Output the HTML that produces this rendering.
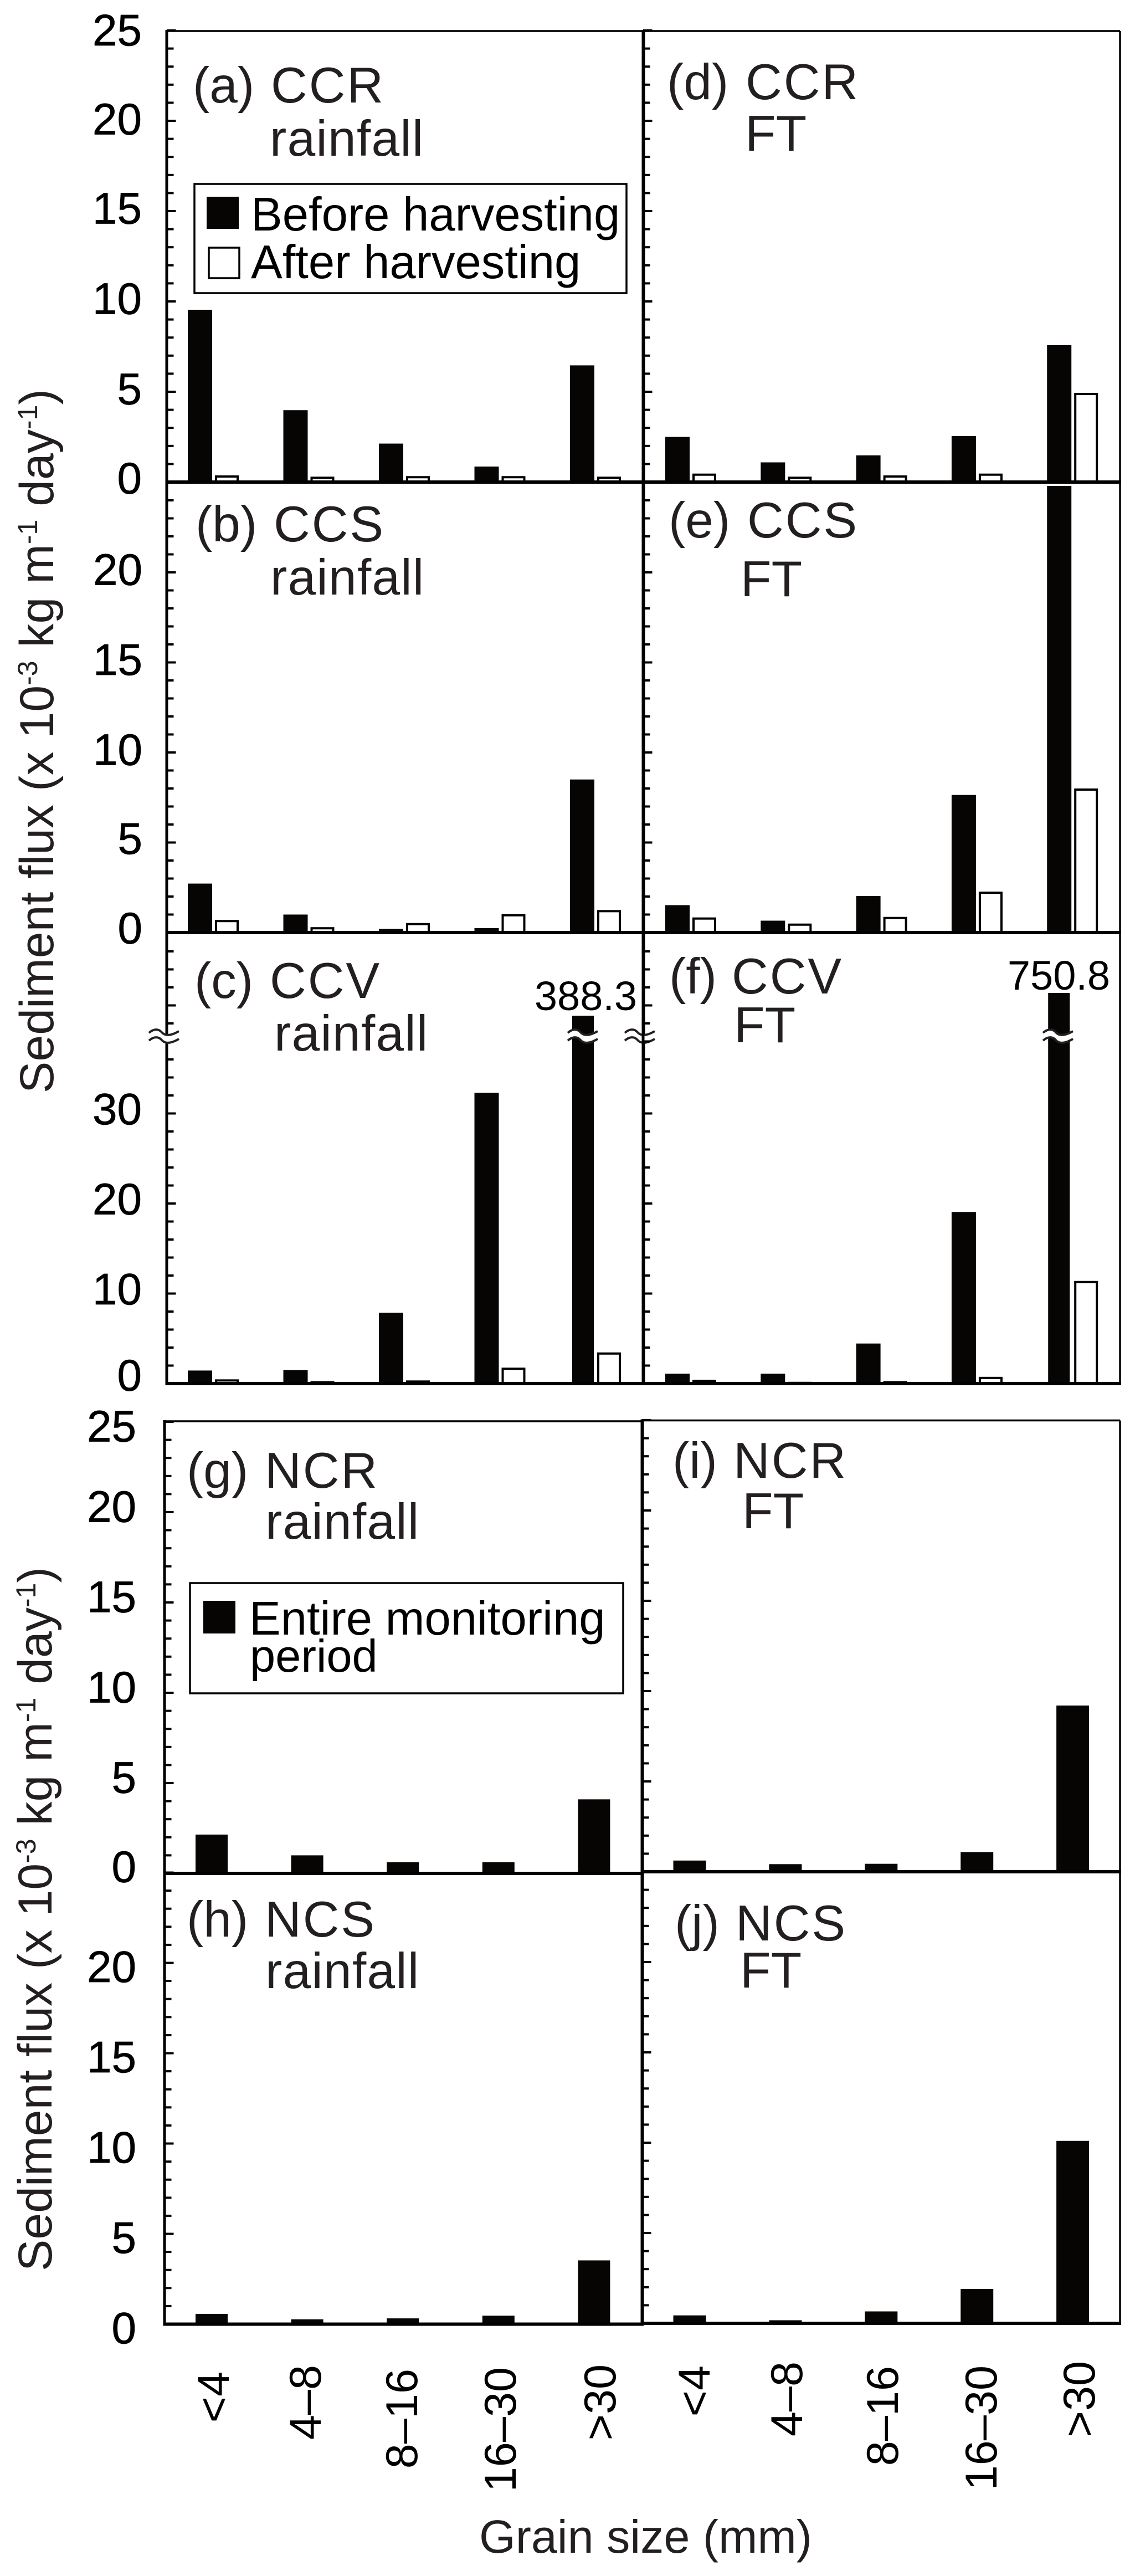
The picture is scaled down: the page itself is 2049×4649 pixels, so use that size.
<!DOCTYPE html>
<html lang="en">
<head>
<meta charset="utf-8">
<title>Sediment flux by grain size</title>
<style>
html,body{margin:0;padding:0;background:#fff;}
body{width:2049px;height:4649px;overflow:hidden;}
svg{display:block;font-family:"Liberation Sans",Arial,sans-serif;}
.plabel{font-size:91px;fill:#231f20;}
.site{letter-spacing:3px;}
.rain{letter-spacing:1.3px;}
.legend{font-size:85px;fill:#000;}
.ytitle{font-size:86px;fill:#231f20;}
.sup{font-size:50px;}
</style>
</head>
<body>
<svg id="chart" xmlns="http://www.w3.org/2000/svg" width="2049" height="4649" viewBox="0 0 2049 4649">
  <rect x="0" y="0" width="2049" height="4649" fill="#fff"/>
  <g id="plots"></g>

  <g>
    <text class="plabel" x="348" y="185">(a)</text>
    <text class="plabel site" x="489" y="185">CCR</text>
    <text class="plabel rain" x="487" y="281">rainfall</text>
    <text class="plabel" x="353" y="977">(b)</text>
    <text class="plabel site" x="494" y="977">CCS</text>
    <text class="plabel rain" x="488" y="1073">rainfall</text>
    <text class="plabel" x="351" y="1801">(c)</text>
    <text class="plabel site" x="487" y="1801">CCV</text>
    <text class="plabel rain" x="495" y="1896">rainfall</text>
    <text class="plabel" x="1204" y="179">(d)</text>
    <text class="plabel site" x="1346" y="179">CCR</text>
    <text class="plabel" x="1345" y="272">FT</text>
    <text class="plabel" x="1207" y="970">(e)</text>
    <text class="plabel site" x="1349" y="970">CCS</text>
    <text class="plabel" x="1337" y="1076">FT</text>
    <text class="plabel" x="1208" y="1793">(f)</text>
    <text class="plabel site" x="1321" y="1793">CCV</text>
    <text class="plabel" x="1325" y="1881">FT</text>
    <text class="plabel" x="337" y="2685">(g)</text>
    <text class="plabel site" x="478" y="2685">NCR</text>
    <text class="plabel rain" x="479" y="2777">rainfall</text>
    <text class="plabel" x="337" y="3495">(h)</text>
    <text class="plabel site" x="478" y="3495">NCS</text>
    <text class="plabel rain" x="479" y="3588">rainfall</text>
    <text class="plabel" x="1214" y="2667">(i)</text>
    <text class="plabel site" x="1324" y="2667">NCR</text>
    <text class="plabel" x="1340" y="2758">FT</text>
    <text class="plabel" x="1218" y="3502">(j)</text>
    <text class="plabel site" x="1328" y="3502">NCS</text>
    <text class="plabel" x="1336" y="3587">FT</text>
  </g>

  <g>
    <rect x="351" y="332" width="780" height="197" fill="#fff" stroke="#000" stroke-width="3.5"/>
    <rect x="373" y="355" width="58" height="58" fill="#070404"/>
    <text class="legend" x="453" y="416">Before harvesting</text>
    <rect x="377" y="447" width="55" height="55" fill="#fff" stroke="#000" stroke-width="3.5"/>
    <text class="legend" x="453" y="502">After harvesting</text>
  </g>
  <g>
    <rect x="343" y="2857" width="782" height="199" fill="#fff" stroke="#000" stroke-width="3.5"/>
    <rect x="367" y="2889" width="58" height="59" fill="#070404"/>
    <text class="legend" x="450" y="2950">Entire monitoring</text>
    <text class="legend" x="451" y="3017" style="font-size:83px">period</text>
  </g>

  <text class="ytitle" transform="translate(96,1973) rotate(-90)">Sediment flux (x 10<tspan class="sup" dy="-29">-3</tspan><tspan dy="29"> kg m</tspan><tspan class="sup" dy="-29">-1</tspan><tspan dy="29"> day</tspan><tspan class="sup" dy="-29">-1</tspan><tspan dy="29">)</tspan></text>
  <text class="ytitle" transform="translate(93,4099) rotate(-90)">Sediment flux (x 10<tspan class="sup" dy="-29">-3</tspan><tspan dy="29"> kg m</tspan><tspan class="sup" dy="-29">-1</tspan><tspan dy="29"> day</tspan><tspan class="sup" dy="-29">-1</tspan><tspan dy="29">)</tspan></text>
  <text x="865" y="4607" font-size="84.5" fill="#231f20">Grain size (mm)</text>
</svg>

<script>
// ---- chart data ----
const categories = ["<4", "4–8", "8–16", "16–30", ">30"];

const aBefore = [9.54, 3.98, 2.13, 0.86, 6.46];
const aAfter  = [0.37, 0.30, 0.33, 0.33, 0.30];
const bBefore = [2.72, 1.00, 0.20, 0.25, 8.50];
const bAfter  = [0.70, 0.30, 0.53, 1.02, 1.25];
const cBefore = [1.45, 1.50, 7.87, 32.3, 388.3];
const cAfter  = [0.47, 0.27, 0.35, 1.77, 3.46];
const dBefore = [2.50, 1.09, 1.48, 2.55, 7.58];
const dAfter  = [0.47, 0.30, 0.37, 0.47, 4.94];
const eBefore = [1.52, 0.66, 2.03, 7.64, 24.8];
const eAfter  = [0.84, 0.50, 0.87, 2.27, 8.00];
const fBefore = [1.10, 1.10, 4.45, 19.06, 750.8];
const fAfter  = [0.43, 0.20, 0.28, 0.75, 11.4];
const gEntire = [2.15, 1.00, 0.62, 0.62, 4.10];
const hEntire = [0.57, 0.27, 0.32, 0.47, 3.53];
const iEntire = [0.62, 0.42, 0.44, 1.09, 9.20];
const jEntire = [0.44, 0.17, 0.66, 1.90, 10.1];

const yLabelsFull  = [0, 5, 10, 15, 20, 25];
const yLabelsNoTop = [0, 5, 10, 15, 20];
const yLabelsBroken = [0, 10, 20, 30];

// ---- scales ----
function linearScale(base, unit) {
  return function (v) { return base - v * unit; };
}
function brokenScale(base, unit, breakAt, compress) {
  return function (v) {
    const eff = v <= breakAt ? v : breakAt + (v - breakAt) * compress;
    return base - eff * unit;
  };
}

const NS = "http://www.w3.org/2000/svg";
const plots = document.getElementById("plots");
function add(parent, tag, attrs, text) {
  const el = document.createElementNS(NS, tag);
  for (const k in attrs) el.setAttribute(k, attrs[k]);
  if (text !== undefined) el.textContent = text;
  parent.appendChild(el);
  return el;
}

// ---- panel layout ----
const UP_BEFORE_L = { x0: 339, step: 172.5, w: 44 };
const UP_AFTER_L  = { x0: 388, step: 172.5, w: 43 };
const UP_BEFORE_R = { x0: 1201, step: 172.3, w: 44 };
const UP_AFTER_R  = { x0: 1250, step: 172.3, w: 43 };
const LOW_L = { x0: 353, step: 172.6, w: 58 };
const LOW_R = { x0: 1215.5, step: 172.9, w: 59 };

const XLAB_LEFT  = { baseX: [413, 579, 753, 931, 1111], endY: [4280, 4268, 4275, 4272, 4267] };
const XLAB_RIGHT = { baseX: [1281, 1448, 1621, 1799, 1976], endY: [4269, 4262, 4270, 4269, 4261] };

const panels = [
  { id: "a", left: 301, right: 1162, top: 56, base: 870, unit: 32.6, before: aBefore, after: aAfter, bx: UP_BEFORE_L, ax: UP_AFTER_L, labels: yLabelsFull, labelX: 256, dy: -6, dyAt: { 25: -1.5, 20: -4, 0: -8 } },
  { id: "b", left: 301, right: 1162, top: 870, base: 1683, unit: 32.5, before: bBefore, after: bAfter, bx: UP_BEFORE_L, ax: UP_AFTER_L, labels: yLabelsNoTop, labelX: 257, dy: -6, dyAt: { 5: -8, 0: -9 } },
  { id: "c", left: 301, right: 1162, top: 1683, base: 2497, unit: 16.25, before: cBefore, after: cAfter, bx: UP_BEFORE_L, ax: UP_AFTER_L, labels: yLabelsBroken, labelX: 256, dy: -9, dyAt: { 0: -16 }, broken: true, flag: "388.3", flagX: 1057.5, flagY: 1823, breakX: [296, 1155, 1052] },
  { id: "d", left: 1161, right: 2022, top: 56, base: 870, unit: 32.6, before: dBefore, after: dAfter, bx: UP_BEFORE_R, ax: UP_AFTER_R },
  { id: "e", left: 1161, right: 2022, top: 870, base: 1683, unit: 32.5, before: eBefore, after: eAfter, bx: UP_BEFORE_R, ax: UP_AFTER_R },
  { id: "f", left: 1161, right: 2022, top: 1683, base: 2497, unit: 16.25, before: fBefore, after: fAfter, bx: UP_BEFORE_R, ax: UP_AFTER_R, broken: true, flag: "750.8", flagX: 1911.5, flagY: 1786, breakX: [1910] },
  { id: "g", left: 297, right: 1160, top: 2565, base: 3381, unit: 32.6, before: gEntire, bx: LOW_L, labels: yLabelsFull, labelX: 246, dy: -11, dyAt: { 25: 7, 0: -13 } },
  { id: "h", left: 297, right: 1160, top: 3380, base: 4194.5, unit: 32.6, before: hEntire, bx: LOW_L, labels: yLabelsNoTop, labelX: 246, dy: 6, dyAt: {}, xlab: XLAB_LEFT },
  { id: "i", left: 1159, right: 2022, top: 2563.5, base: 3378, unit: 32.6, before: iEntire, bx: LOW_R },
  { id: "j", left: 1159, right: 2022, top: 3378, base: 4193, unit: 32.6, before: jEntire, bx: LOW_R, xlab: XLAB_RIGHT }
];

function drawBreak(g, cx) {
  const upper = 1864, lower = 1878;
  const wave = "c9,-8 17,-7 22,-2 c5,6 13,10 32,-1";
  const band = add(g, "path", {
    d: "M" + (cx - 27) + "," + upper + " " + wave + " v14 c-19,11 -27,7 -32,1 c-5,-5 -13,-6 -22,2 z",
    fill: "#fff", stroke: "none"
  });
  
  
  const w1 = add(g, "path", { d: "M" + (cx - 27) + "," + upper + " " + wave, fill: "none", stroke: "#231f20", "stroke-width": 4 });
  
  
  const w2 = add(g, "path", { d: "M" + (cx - 27) + "," + lower + " " + wave, fill: "none", stroke: "#231f20", "stroke-width": 4 });
  
  
}

panels.forEach(function (p) {
  const g = add(plots, "g", {});
  
  

  const y = p.broken ? brokenScale(p.base, p.unit, 38.4, 0.007) : linearScale(p.base, p.unit);
  const isBroken = !!p.broken;

  // y ticks
  const maxTick = isBroken ? 48 : 25;
  const tickStep = isBroken ? 2 : 1;
  const upperLong = 42;
  for (let v = 0; v <= maxTick; v += tickStep) {
    const long = isBroken ? (v % 10 === 0 && v <= 30) || v === upperLong : v % 5 === 0;
    const yy = p.base - v * p.unit;
    const t = add(g, "line", { x1: p.left, x2: p.left + (long ? 16.5 : 12.5), y1: yy, y2: yy, stroke: "#000", "stroke-width": 4 });
    
    
  }

  // bars
  p.before.forEach(function (v, i) {
    let x = p.bx.x0 + i * p.bx.step;
    let w = p.bx.w;
    if (isBroken && v > 38.4) { x += p.id === "c" ? 4 : 2; w -= 5; }
    const top = y(v);
    const r = add(g, "rect", { x: x, y: top, width: w, height: Math.max(0, p.base - top), fill: "#070404" });
    
    
  });
  if (p.after) {
    p.after.forEach(function (v, i) {
      const x = p.ax.x0 + i * p.ax.step;
      const top = y(v);
      const h = Math.max(0, p.base - top - 2);
      const r = add(g, "rect", { x: x + 2, y: top + 2, width: p.ax.w - 4, height: h, fill: "#fff", stroke: "#000", "stroke-width": 4 });
      
      
    });
  }

  // frame
  const frameTop = add(g, "line", { x1: p.left, x2: p.right, y1: p.top, y2: p.top, stroke: "#000", "stroke-width": 3.5 });
  
  
  const frameRight = add(g, "line", { x1: p.right, x2: p.right, y1: p.top, y2: p.base, stroke: "#000", "stroke-width": p.right > 2000 ? 3.5 : 5 });
  
  
  const axisLeft = add(g, "line", { x1: p.left, x2: p.left, y1: p.top - 2, y2: p.base + 3, stroke: "#000", "stroke-width": 5 });
  
  
  const axisBase = add(g, "line", { x1: p.left, x2: p.right + 2, y1: p.base, y2: p.base, stroke: "#000", "stroke-width": 6 });
  
  

  // y tick labels
  if (p.labels) {
    p.labels.forEach(function (v) {
      const centre = p.base - v * p.unit + (v in p.dyAt ? p.dyAt[v] : p.dy);
      const t = add(g, "text", { x: p.labelX, y: centre + 28.6, "text-anchor": "end", "font-size": 80, fill: "#000", stroke: "#000", "stroke-width": 0.7 }, String(v));
      
      
    });
  }

  // broken-axis marks
  if (p.breakX) {
    p.breakX.forEach(function (cx) { drawBreak(g, cx); });
  }

  // printed value
  if (p.flag) {
    const t = add(g, "text", { x: p.flagX, y: p.flagY, "text-anchor": "middle", "font-size": 74, fill: "#000" }, p.flag);
    
    
  }

  // x tick labels
  if (p.xlab) {
    categories.forEach(function (c, i) {
      const t = add(g, "text", {
        transform: "translate(" + p.xlab.baseX[i] + "," + p.xlab.endY[i] + ") rotate(-90)",
        "text-anchor": "end", "font-size": 81, fill: "#000"
      }, c);
      
      
    });
  }
});
</script>
</body>
</html>
